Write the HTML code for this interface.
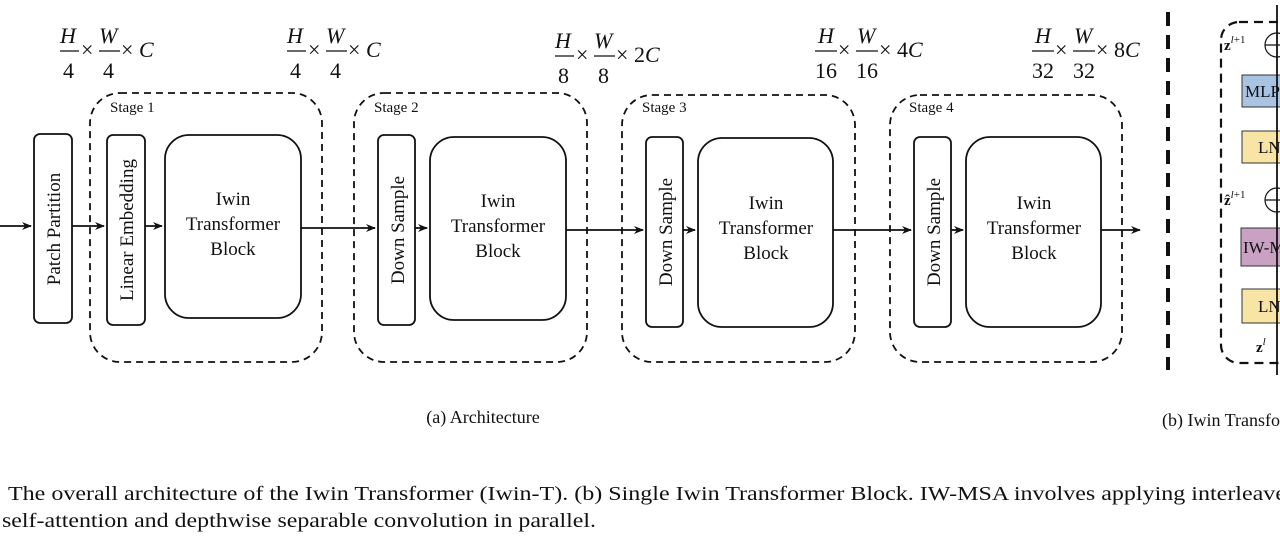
<!DOCTYPE html>
<html><head><meta charset="utf-8"><style>
html,body{margin:0;padding:0;background:#fff;width:1280px;height:545px;overflow:hidden}
svg{display:block}
text{font-family:"Liberation Serif",serif;fill:#111}
</style></head><body>
<svg width="1280" height="545" viewBox="0 0 1280 545" xmlns="http://www.w3.org/2000/svg">
<defs>
<marker id="ah" markerWidth="10" markerHeight="8" refX="9" refY="4" orient="auto" markerUnits="userSpaceOnUse">
<path d="M0,0 L10,4 L0,8 L3,4 Z" fill="#111"/></marker>
</defs>
<g font-size="22">
<!-- formulas -->
<g transform="translate(60,0)">
<text x="0" y="43" font-style="italic">H</text><line x1="0" y1="51" x2="19" y2="51" stroke="#111" stroke-width="1.3"/><text x="3" y="78">4</text>
<text x="21" y="57">×</text>
<text x="39" y="43" font-style="italic">W</text><line x1="39" y1="51" x2="60" y2="51" stroke="#111" stroke-width="1.3"/><text x="43" y="78">4</text>
<text x="61" y="57">×</text><text x="79" y="57" font-style="italic">C</text></g>
<g transform="translate(287,0)">
<text x="0" y="43" font-style="italic">H</text><line x1="0" y1="51" x2="19" y2="51" stroke="#111" stroke-width="1.3"/><text x="3" y="78">4</text>
<text x="21" y="57">×</text>
<text x="39" y="43" font-style="italic">W</text><line x1="39" y1="51" x2="60" y2="51" stroke="#111" stroke-width="1.3"/><text x="43" y="78">4</text>
<text x="61" y="57">×</text><text x="79" y="57" font-style="italic">C</text></g>
<g transform="translate(555,5)">
<text x="0" y="43" font-style="italic">H</text><line x1="0" y1="51" x2="19" y2="51" stroke="#111" stroke-width="1.3"/><text x="3" y="78">8</text>
<text x="21" y="57">×</text>
<text x="39" y="43" font-style="italic">W</text><line x1="39" y1="51" x2="60" y2="51" stroke="#111" stroke-width="1.3"/><text x="43" y="78">8</text>
<text x="61" y="57">×</text><text x="79" y="57">2<tspan font-style="italic">C</tspan></text></g>
<g transform="translate(815,0)">
<text x="3" y="43" font-style="italic">H</text><line x1="0" y1="51" x2="22" y2="51" stroke="#111" stroke-width="1.3"/><text x="0" y="78">16</text>
<text x="23" y="57">×</text>
<text x="42" y="43" font-style="italic">W</text><line x1="41" y1="51" x2="63" y2="51" stroke="#111" stroke-width="1.3"/><text x="41" y="78">16</text>
<text x="64" y="57">×</text><text x="82" y="57">4<tspan font-style="italic">C</tspan></text></g>
<g transform="translate(1032,0)">
<text x="3" y="43" font-style="italic">H</text><line x1="0" y1="51" x2="22" y2="51" stroke="#111" stroke-width="1.3"/><text x="0" y="78">32</text>
<text x="23" y="57">×</text>
<text x="42" y="43" font-style="italic">W</text><line x1="41" y1="51" x2="63" y2="51" stroke="#111" stroke-width="1.3"/><text x="41" y="78">32</text>
<text x="64" y="57">×</text><text x="82" y="57">8<tspan font-style="italic">C</tspan></text></g>
</g>

<!-- stage dashed boxes -->
<g fill="none" stroke="#111" stroke-width="1.8" stroke-dasharray="7,5">
<rect x="90" y="93" width="232" height="269" rx="30"/>
<rect x="354" y="93" width="233" height="269" rx="30"/>
<rect x="622" y="95" width="233" height="267" rx="30"/>
<rect x="890" y="95" width="232" height="267" rx="30"/>
</g>
<g font-size="15"><text x="110" y="112">Stage 1</text><text x="374" y="112">Stage 2</text><text x="642" y="112">Stage 3</text><text x="909" y="112">Stage 4</text></g>

<!-- solid boxes -->
<g fill="#fff" stroke="#111" stroke-width="1.8">
<rect x="34" y="134" width="38" height="189" rx="6"/>
<rect x="107" y="135" width="38" height="190" rx="6"/>
<rect x="165" y="135" width="136" height="183" rx="24"/>
<rect x="378" y="135" width="37" height="190" rx="6"/>
<rect x="430" y="137" width="136" height="183" rx="24"/>
<rect x="646" y="137" width="37" height="190" rx="6"/>
<rect x="698" y="138" width="135" height="189" rx="24"/>
<rect x="914" y="137" width="37" height="190" rx="6"/>
<rect x="966" y="137" width="135" height="190" rx="24"/>
</g>
<g font-size="19" text-anchor="middle">
<text transform="translate(60,229) rotate(-90)">Patch Partition</text>
<text transform="translate(133,230) rotate(-90)">Linear Embedding</text>
<text transform="translate(404,230) rotate(-90)">Down Sample</text>
<text transform="translate(672,232) rotate(-90)">Down Sample</text>
<text transform="translate(940,232) rotate(-90)">Down Sample</text>
<text x="233" y="205">Iwin</text><text x="233" y="230">Transformer</text><text x="233" y="255">Block</text>
<text x="498" y="207">Iwin</text><text x="498" y="232">Transformer</text><text x="498" y="257">Block</text>
<text x="766" y="209">Iwin</text><text x="766" y="234">Transformer</text><text x="766" y="259">Block</text>
<text x="1034" y="209">Iwin</text><text x="1034" y="234">Transformer</text><text x="1034" y="259">Block</text>
</g>
<!-- arrows -->
<g stroke="#111" stroke-width="1.8" marker-end="url(#ah)">
<line x1="0" y1="226" x2="31" y2="226"/>
<line x1="72" y1="226" x2="104" y2="226"/>
<line x1="145" y1="226" x2="162" y2="226"/>
<line x1="301" y1="228" x2="375" y2="228"/>
<line x1="415" y1="228" x2="427" y2="228"/>
<line x1="566" y1="230" x2="643" y2="230"/>
<line x1="683" y1="230" x2="695" y2="230"/>
<line x1="833" y1="230" x2="911" y2="230"/>
<line x1="951" y1="230" x2="963" y2="230"/>
<line x1="1101" y1="230" x2="1140" y2="230"/>
</g>
<text x="483" y="423" font-size="18" text-anchor="middle">(a) Architecture</text>

<!-- separator -->
<line x1="1168" y1="12" x2="1168" y2="370" stroke="#111" stroke-width="4" stroke-dasharray="14,9"/>

<!-- right panel -->
<rect x="1221" y="22" width="100" height="341" rx="18" fill="none" stroke="#111" stroke-width="2.2" stroke-dasharray="9,6"/>
<rect x="1242" y="75" width="60" height="32" fill="#a9c3e3" stroke="#333" stroke-width="1"/>
<rect x="1242" y="131" width="60" height="32" fill="#f8e5a5" stroke="#333" stroke-width="1"/>
<rect x="1241" y="228" width="60" height="38" fill="#c9a1c3" stroke="#333" stroke-width="1"/>
<rect x="1242" y="289" width="60" height="34" fill="#f8e5a5" stroke="#333" stroke-width="1"/>
<circle cx="1277" cy="45" r="12" fill="#fff" stroke="#111" stroke-width="1.2"/>
<circle cx="1277" cy="200" r="12" fill="#fff" stroke="#111" stroke-width="1.2"/>
<line x1="1265" y1="45" x2="1289" y2="45" stroke="#111" stroke-width="1.2"/>
<line x1="1265" y1="200" x2="1289" y2="200" stroke="#111" stroke-width="1.2"/>
<line x1="1277" y1="375" x2="1277" y2="5" stroke="#111" stroke-width="1.8"/>
<g font-size="17" fill="#223"><text x="1245" y="97">MLP</text><text x="1258" y="153">LN</text><text x="1243" y="253">IW-MSA</text><text x="1258" y="312">LN</text></g>
<g font-size="15"><text x="1224" y="50" font-weight="bold">z<tspan font-size="11" font-weight="normal" font-style="italic" dy="-7">l</tspan><tspan font-size="11" font-weight="normal" dy="0">+1</tspan></text>
<text x="1224" y="205" font-weight="bold">ẑ<tspan font-size="11" font-weight="normal" font-style="italic" dy="-7">l</tspan><tspan font-size="11" font-weight="normal">+1</tspan></text>
<text x="1256" y="352" font-weight="bold">z<tspan font-size="11" font-weight="normal" font-style="italic" dy="-7">l</tspan></text></g>
<text x="1162" y="426" font-size="18">(b) Iwin Transformer Block</text>

<!-- caption -->
<text x="8" y="500" font-size="20" textLength="1290" lengthAdjust="spacingAndGlyphs">The overall architecture of the Iwin Transformer (Iwin-T). (b) Single Iwin Transformer Block. IW-MSA involves applying interleaved</text>
<text x="2" y="527" font-size="20" textLength="594" lengthAdjust="spacingAndGlyphs">self-attention and depthwise separable convolution in parallel.</text>
</svg>
</body></html>
